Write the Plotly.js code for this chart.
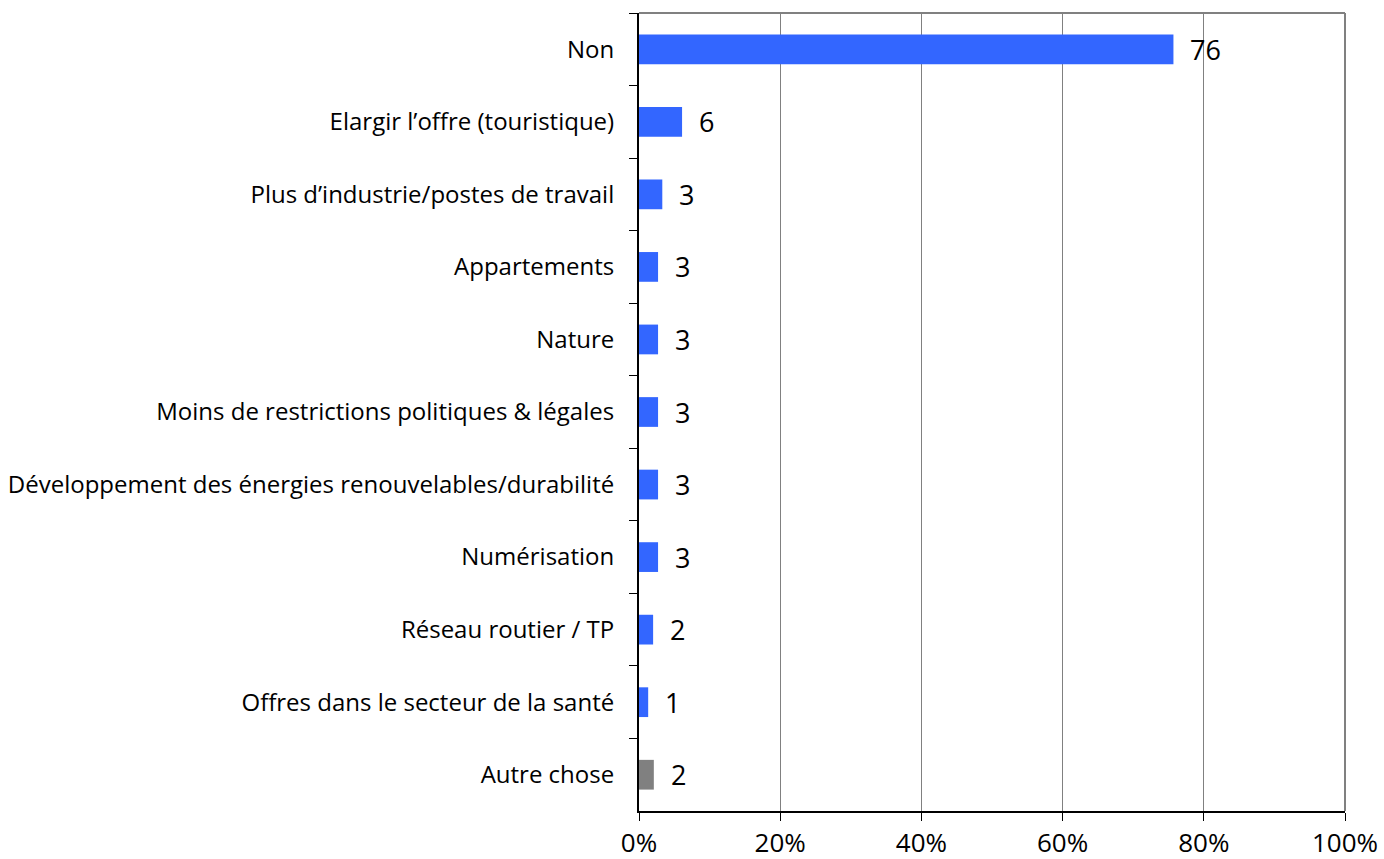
<!DOCTYPE html>
<html>
<head>
<meta charset="utf-8">
<script src="https://cdn.plot.ly/plotly-3.0.1.min.js"></script>
<style>html,body{margin:0;padding:0;background:#fff;}#chart{width:1384px;height:859px;}</style>
</head>
<body>
<div id="chart"></div>
<script>
const categories = [
  "Non",
  "Elargir l\u2019offre (touristique)",
  "Plus d\u2019industrie/postes de travail",
  "Appartements",
  "Nature",
  "Moins de restrictions politiques & légales",
  "Développement des énergies renouvelables/durabilité",
  "Numérisation",
  "Réseau routier / TP",
  "Offres dans le secteur de la santé",
  "Autre chose"
];
const values = [75.7, 6.1, 3.3, 2.7, 2.7, 2.7, 2.7, 2.7, 2.0, 1.3, 2.1];
const valueLabels = ["76", "6", "3", "3", "3", "3", "3", "3", "2", "1", "2"];
const barColors = ["#3366ff","#3366ff","#3366ff","#3366ff","#3366ff","#3366ff","#3366ff","#3366ff","#3366ff","#3366ff","#808080"];
const xTickVals = [0, 20, 40, 60, 80, 100];
const xTickText = ["0%", "20%", "40%", "60%", "80%", "100%"];

const FONT = "Open Sans, sans-serif";

const trace = {
  type: "bar",
  orientation: "h",
  x: values,
  y: categories,
  marker: {color: barColors, line: {width: 0}},
  hoverinfo: "skip"
};

const annotations = categories.map((c, i) => ({
  x: values[i], y: c, xref: "x", yref: "y",
  text: valueLabels[i], showarrow: false,
  xanchor: "left", yanchor: "middle", xshift: 15,
  font: {family: FONT, size: 27, color: "#000"}
}));

const layout = {
  width: 1384, height: 859,
  margin: {l: 639, r: 39, t: 13, b: 48, pad: 0},
  paper_bgcolor: "#fff", plot_bgcolor: "#fff",
  showlegend: false,
  bargap: 0.59,
  xaxis: {
    range: [0, 100], tickvals: xTickVals, ticktext: xTickText,
    showgrid: true, gridcolor: "#808080", gridwidth: 1,
    zeroline: false, showline: true, linecolor: "#000", linewidth: 2,
    ticks: "outside", ticklen: 8, tickcolor: "#000", tickwidth: 1,
    tickfont: {family: FONT, size: 26, color: "#000"},
    fixedrange: true
  },
  yaxis: {
    type: "category", autorange: "reversed",
    showgrid: false, zeroline: false, showline: true, linecolor: "#000", linewidth: 2,
    ticks: "outside", ticklen: 8, tickcolor: "#000", tickwidth: 1,
    tickson: "boundaries", ticklabelstandoff: 18,
    tickfont: {family: FONT, size: 24, color: "#000"},
    fixedrange: true
  },
  shapes: [
    {type: "line", xref: "paper", yref: "paper", x0: 0, x1: 1, y0: 1, y1: 1, line: {color: "#808080", width: 2}},
    {type: "line", xref: "paper", yref: "paper", x0: 1, x1: 1, y0: 0, y1: 1, line: {color: "#808080", width: 2}}
  ],
  annotations: annotations
};

Plotly.newPlot("chart", [trace], layout, {displayModeBar: false, staticPlot: true});
</script>
</body>
</html>
